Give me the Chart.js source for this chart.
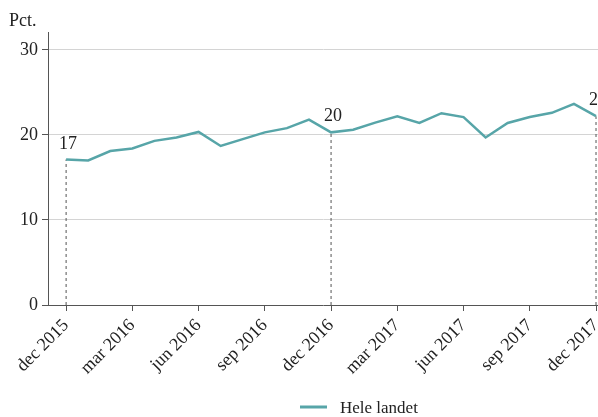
<!DOCTYPE html>
<html>
<head>
<meta charset="utf-8">
<script src="https://cdn.jsdelivr.net/npm/chart.js@4"></script>
<style>
  html, body { margin: 0; padding: 0; background: #fff; }
  #wrap { width: 598px; height: 417px; }
</style>
</head>
<body>
<div id="wrap"><canvas id="chart" width="598" height="417"></canvas></div>
<script>
// monthly, dec 2015 .. dec 2017
const months = [
  "dec 2015", "jan 2016", "feb 2016", "mar 2016", "apr 2016", "maj 2016",
  "jun 2016", "jul 2016", "aug 2016", "sep 2016", "okt 2016", "nov 2016",
  "dec 2016", "jan 2017", "feb 2017", "mar 2017", "apr 2017", "maj 2017",
  "jun 2017", "jul 2017", "aug 2017", "sep 2017", "okt 2017", "nov 2017",
  "dec 2017",
];
const heleLandet = [
  17.1, 17.0, 18.1, 18.4, 19.3, 19.7, 20.35, 18.7, 19.5, 20.3, 20.8, 21.8,
  20.3, 20.6, 21.45, 22.2, 21.4, 22.55, 22.1, 19.7, 21.4, 22.1, 22.6, 23.65,
  22.2,
];
const xTicks = [0, 3, 6, 9, 12, 15, 18, 21, 24];
const yTicks = [0, 10, 20, 30];
const markIdx = [0, 12, 24];

const teal = "#57a5a8";
const serif = "'Liberation Serif', 'DejaVu Serif', serif";

const dropLines = markIdx.map((i) => ({
  label: "_drop",
  data: [{ x: i, y: 0 }, { x: i, y: heleLandet[i] }],
  borderColor: "#555",
  borderWidth: 1,
  borderDash: [3, 3],
  pointRadius: 0,
  order: 2,
}));

const extras = {
  id: "extras",
  afterDraw(chart) {
    const ctx = chart.ctx;
    const x = chart.scales.x, y = chart.scales.y;
    ctx.save();
    ctx.fillStyle = "#222";
    ctx.font = "18px " + serif;
    ctx.textBaseline = "alphabetic";
    ctx.textAlign = "left";
    ctx.fillText("Pct.", 9, 26);

    // value labels over the dashed lines
    ctx.textAlign = "center";
    markIdx.forEach((i) => {
      const px = x.getPixelForValue(i);
      const py = y.getPixelForValue(heleLandet[i]);
      ctx.fillText(String(Math.round(heleLandet[i])), px + 2, py - 11);
    });

    // legend
    ctx.strokeStyle = teal;
    ctx.lineWidth = 3;
    ctx.beginPath();
    ctx.moveTo(300, 407);
    ctx.lineTo(327, 407);
    ctx.stroke();
    ctx.font = "17px " + serif;
    ctx.textAlign = "left";
    ctx.fillText("Hele landet", 340, 413);
    ctx.restore();
  },
};

new Chart(document.getElementById("chart"), {
  type: "line",
  data: {
    datasets: [
      {
        label: "Hele landet",
        data: heleLandet.map((v, i) => ({ x: i, y: v })),
        borderColor: teal,
        backgroundColor: teal,
        borderWidth: 2.5,
        pointRadius: 0,
        tension: 0,
        order: 1,
      },
      ...dropLines,
    ],
  },
  options: {
    responsive: false,
    animation: false,
    layout: { padding: { top: 32, right: 0, left: 0, bottom: 0 } },
    plugins: {
      legend: { display: false },
      tooltip: { enabled: false },
    },
    scales: {
      x: {
        type: "linear",
        min: -0.82,
        max: 24.09,
        afterBuildTicks: (s) => { s.ticks = xTicks.map((v) => ({ value: v })); },
        afterFit: (s) => { s.height = 112; s.paddingLeft = 0; s.paddingRight = 0; },
        grid: { drawOnChartArea: false, drawTicks: true, tickLength: 6, tickColor: "#555" },
        border: { color: "#555", width: 1 },
        ticks: {
          autoSkip: false,
          minRotation: 45,
          maxRotation: 45,
          padding: 4,
          color: "#222",
          font: { family: serif, size: 18 },
          callback: (v) => months[v],
        },
      },
      y: {
        min: 0,
        max: 32.1,
        afterBuildTicks: (s) => { s.ticks = yTicks.map((v) => ({ value: v })); },
        afterFit: (s) => { s.width = 48; },
        grid: {
          color: (c) => (c.tick && c.tick.value === 0 ? "rgba(0,0,0,0)" : "#d4d4d4"),
          tickColor: "#555",
          tickLength: 6,
        },
        border: { color: "#555", width: 1 },
        ticks: {
          padding: 4,
          color: "#222",
          font: { family: serif, size: 18 },
        },
      },
    },
  },
  plugins: [extras],
});
</script>
</body>
</html>
